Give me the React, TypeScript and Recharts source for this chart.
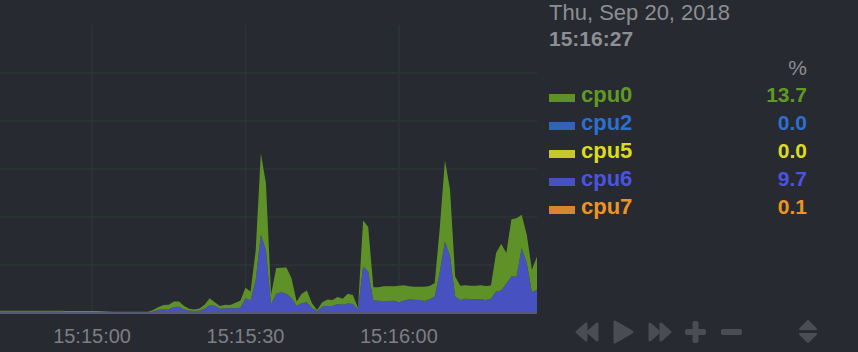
import { Area, AreaChart, CartesianGrid, XAxis, YAxis } from 'recharts'

// seconds since 15:14:42, one sample per second up to 15:16:27
const cpu6 = [
  0.4, 0.4, 0.4, 0.4, 0.4, 0.4, 0.4, 0.4, 0.4, 0.4,
  0.4, 0.4, 0.4, 0.35, 0.35, 0.35, 0.3, 0.3, 0.3, 0.3,
  0.3, 0.25, 0.2, 0.2, 0.2, 0.2, 0.2, 0.2, 0.2, 0.2,
  0.5, 1.25, 1.4, 1.4, 2.4, 2.5, 1.4, 0.8, 0.7, 0.8,
  1.7, 3.1, 2.9, 1.7, 1.8, 1.9, 1.9, 2.1, 6.0, 5.1,
  13.8, 32.5, 26.0, 3.4, 7.9, 8.5, 7.9, 6.2, 2.8, 4.0,
  4.4, 2.0, 0.6, 2.5, 2.8, 2.8, 3.6, 3.3, 3.9, 3.6,
  1.4, 19.3, 17.2, 5.1, 5.0, 4.6, 4.9, 5.0, 4.4, 5.1,
  5.6, 5.4, 5.3, 4.9, 5.6, 6.7, 17.1, 29.7, 23.5, 6.8,
  5.3, 5.8, 5.7, 5.6, 5.6, 5.3, 5.8, 8.9, 9.3, 12.1,
  15.1, 15.0, 27.0, 20.7, 8.5, 9.7,
]

const cpu0 = [
  0.4, 0.4, 0.4, 0.4, 0.4, 0.4, 0.4, 0.4, 0.4, 0.4,
  0.4, 0.4, 0.4, 0.4, 0.4, 0.4, 0.4, 0.4, 0.4, 0.4,
  0.35, 0.3, 0.25, 0.2, 0.2, 0.2, 0.2, 0.2, 0.2, 0.2,
  0.75, 1.15, 1.8, 1.9, 2.3, 2.2, 1.4, 0.9, 0.7, 1.0,
  1.6, 2.9, 1.5, 1.1, 1.5, 1.3, 2.3, 2.9, 4.4, 3.8,
  12.2, 34.0, 28.0, 4.1, 10.7, 10.3, 11.0, 8.2, 1.9, 3.9,
  4.9, 2.0, 0.5, 1.9, 2.7, 2.5, 3.0, 2.5, 4.0, 3.8,
  0.7, 19.1, 18.5, 5.5, 5.6, 6.4, 6.1, 6.0, 6.9, 6.4,
  5.4, 5.4, 5.5, 5.9, 5.5, 5.7, 18.5, 33.8, 27.8, 8.3,
  6.0, 5.7, 5.6, 5.7, 5.9, 5.8, 5.6, 16.0, 19.5, 12.8,
  23.9, 24.4, 13.8, 11.8, 9.4, 13.7,
]

const cpu7 = cpu6.map(() => 0.1)
const cpu2 = cpu6.map(() => 0)
const cpu5 = cpu6.map(() => 0)

const xTicks = [18, 48, 78]
const xTickLabels = ['15:15:00', '15:15:30', '15:16:00']
const yTicks = [20, 40, 60, 80, 100]

const legendRows = [
  { name: 'cpu0', value: '13.7', color: '#5e9b24', swatch: '#5f9129' },
  { name: 'cpu2', value: '0.0', color: '#2f6fce', swatch: '#2f64b8' },
  { name: 'cpu5', value: '0.0', color: '#dcdc1e', swatch: '#c8c82a' },
  { name: 'cpu6', value: '9.7', color: '#4a54e0', swatch: '#4752c0' },
  { name: 'cpu7', value: '0.1', color: '#ee9422', swatch: '#d6862c' },
]

const data = cpu6.map((v, i) => ({
  t: i,
  cpu7: cpu7[i],
  cpu6: v,
  cpu5: cpu5[i],
  cpu2: cpu2[i],
  cpu0: cpu0[i],
}))

const font = '"Liberation Sans", Arial, Helvetica, sans-serif'
const iconColor = '#4a4d53'

function Controls() {
  return (
    <svg width={858} height={352} style={{ position: 'absolute', left: 0, top: 0, pointerEvents: 'none' }}>
      <g fill={iconColor} stroke={iconColor} strokeLinejoin="round" strokeWidth={3}>
        <polygon points="586,324 586,340 577,332" />
        <polygon points="597,324 597,340 588,332" />
        <polygon points="615,322 615,342 632,332" />
        <polygon points="650,324 650,340 659,332" />
        <polygon points="661,324 661,340 670,332" />
      </g>
      <g fill={iconColor}>
        <rect x={685} y={329} width={21} height={6} rx={2} />
        <rect x={692.5} y={321} width={6} height={22} rx={2} />
        <rect x={721} y={329} width={21} height={6} rx={2} />
        <polygon points="808,321 816,329 800,329" stroke={iconColor} strokeWidth={2} strokeLinejoin="round" />
        <polygon points="808,342 816,334 800,334" stroke={iconColor} strokeWidth={2} strokeLinejoin="round" />
      </g>
    </svg>
  )
}

function Legend() {
  return (
    <div style={{ position: 'absolute', left: 549, top: 0, width: 260, fontFamily: font, lineHeight: '25px' }}>
      <div style={{ position: 'absolute', top: 0, left: 0, fontSize: 22, color: '#8c8f93', whiteSpace: 'nowrap' }}>
        Thu, Sep 20, 2018
      </div>
      <div style={{ position: 'absolute', top: 26, left: 0, fontSize: 21, fontWeight: 'bold', color: '#8c8f93' }}>
        15:16:27
      </div>
      <div style={{ position: 'absolute', top: 55, left: 0, width: 258, textAlign: 'right', fontSize: 21, color: '#8c8f93' }}>
        %
      </div>
      {legendRows.map((r, i) => (
        <div key={r.name} style={{ position: 'absolute', top: 82 + i * 28, left: 0, width: 258, height: 26 }}>
          <div style={{ position: 'absolute', left: 0, top: 12, width: 26, height: 8, background: r.swatch }} />
          <div style={{ position: 'absolute', left: 32, top: 0, fontSize: 22, fontWeight: 'bold', color: r.color }}>
            {r.name}
          </div>
          <div style={{ position: 'absolute', right: 0, top: 0, fontSize: 21, fontWeight: 'bold', color: r.color }}>
            {r.value}
          </div>
        </div>
      ))}
    </div>
  )
}

export default function App() {
  return (
    <div style={{ position: 'absolute', left: 0, top: 0, width: 858, height: 352, background: '#272a30', overflow: 'hidden' }}>
      <AreaChart width={537} height={352} data={data} margin={{ top: 25, right: 0, left: 0, bottom: 0 }}>
        <CartesianGrid stroke="#2d3634" strokeWidth={1.5} horizontalValues={yTicks} verticalValues={xTicks} />
        <XAxis
          dataKey="t"
          type="number"
          domain={[0, 105]}
          ticks={xTicks}
          tickFormatter={(v: number) => xTickLabels[xTicks.indexOf(v)]}
          height={39}
          axisLine={{ stroke: '#5a5870', strokeWidth: 2 }}
          tickLine={false}
          tickSize={0}
          tickMargin={16}
          tick={{ fill: '#7d7f82', fontSize: 20, fontFamily: font }}
        />
        <YAxis hide domain={[0, 120]} ticks={yTicks} width={0} />
        <Area dataKey="cpu7" stackId="a" type="linear" stroke="none" fill="#d6862c" fillOpacity={1} isAnimationActive={false} />
        <Area dataKey="cpu6" stackId="a" type="linear" stroke="none" fill="#4752c0" fillOpacity={1} isAnimationActive={false} />
        <Area dataKey="cpu5" stackId="a" type="linear" stroke="none" fill="#c8c82a" fillOpacity={1} isAnimationActive={false} />
        <Area dataKey="cpu2" stackId="a" type="linear" stroke="none" fill="#2f64b8" fillOpacity={1} isAnimationActive={false} />
        <Area dataKey="cpu0" stackId="a" type="linear" stroke="none" fill="#5f9129" fillOpacity={1} isAnimationActive={false} />
      </AreaChart>
      <Legend />
      <Controls />
    </div>
  )
}
